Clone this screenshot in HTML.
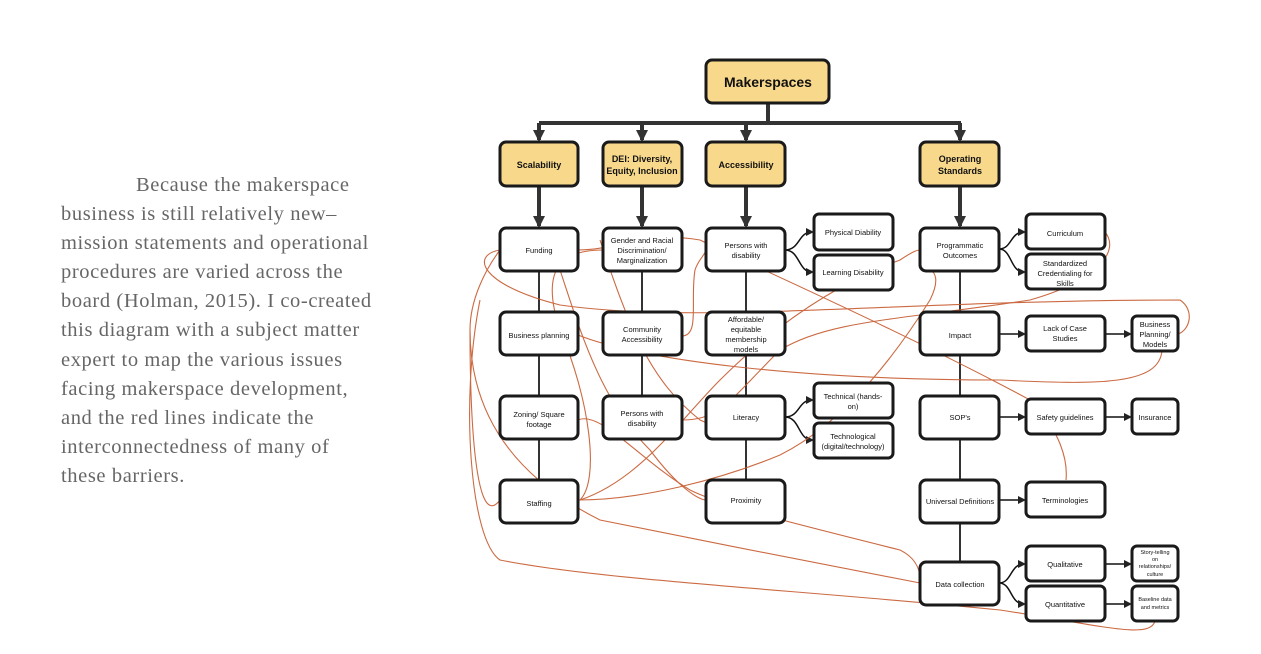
<!DOCTYPE html>
<html><head><meta charset="utf-8"><style>
html,body{margin:0;padding:0;background:#fff;}
body{width:1261px;height:654px;overflow:hidden;position:relative;}
.p{position:absolute;left:61px;top:171px;width:400px;font-family:"Liberation Serif",serif;font-size:20.5px;letter-spacing:0.6px;line-height:29.1px;color:#666;white-space:nowrap;}
svg{position:absolute;left:0;top:0;}
text{font-family:"Liberation Sans",sans-serif;fill:#111;text-anchor:middle;}
</style></head><body>
<div class="p"><span style="display:inline-block;width:75px"></span>Because the makerspace<br>business is still relatively new–<br>mission statements and operational<br>procedures are varied across the<br>board (Holman, 2015). I co-created<br>this diagram with a subject matter<br>expert to map the various issues<br>facing makerspace development,<br>and the red lines indicate the<br>interconnectedness of many of<br>these barriers.</div>
<svg width="1261" height="654" viewBox="0 0 1261 654">
<defs>
<marker id="a" markerWidth="8" markerHeight="8" refX="6" refY="4" orient="auto" markerUnits="userSpaceOnUse"><path d="M0,0L8,4L0,8z" fill="#222"/></marker>
<marker id="b" markerWidth="14" markerHeight="12" refX="10" refY="6" orient="auto" markerUnits="userSpaceOnUse"><path d="M0,0L12,6L0,12z" fill="#333"/></marker>
</defs>
<g stroke="#333" fill="none">
<path d="M768 103V123M539 123H961" stroke-width="4"/>
<g stroke-width="4" marker-end="url(#b)">
<path d="M539 123V140"/><path d="M642 123V140"/><path d="M746 123V140"/><path d="M960 123V140"/>
<path d="M539 186V226"/><path d="M642 186V226"/><path d="M746 186V226"/><path d="M960 186V226"/>
</g>
<path d="M539 271V480M642 271V396M746 271V480M960 271V562" stroke-width="2"/>
<g stroke="#111" stroke-width="1.5" marker-end="url(#a)">
<path d="M785 250C800 250 798 232 812 232"/><path d="M785 250C800 250 798 272 812 272"/>
<path d="M785 417C800 417 798 400 812 400"/><path d="M785 417C800 417 798 440 812 440"/>
<path d="M999 249C1012 249 1010 232 1024 232"/><path d="M999 249C1012 249 1010 272 1024 272"/>
<path d="M999 583C1012 583 1010 564 1024 564"/><path d="M999 583C1012 583 1010 604 1024 604"/>
<path d="M999 334H1024"/><path d="M1105 334H1130"/><path d="M999 417H1024"/><path d="M1105 417H1130"/><path d="M999 500H1024"/><path d="M1105 564H1130"/><path d="M1105 604H1130"/>
</g>
</g>
<g stroke="#c65a2e" stroke-width="1.1" fill="none" opacity="0.9">
<path d="M500 250C470 255 480 285 560 305C700 325 900 300 1180 300C1195 310 1190 330 1178 334"/>
<path d="M578 250C620 250 640 230 700 240C740 260 900 330 1030 400C1060 430 1068 460 1066 480"/>
<path d="M603 250C560 250 540 270 560 330C590 400 600 480 580 500C640 480 680 420 720 380C760 340 820 290 900 260C915 250 918 250 920 250"/>
<path d="M500 500C470 540 470 360 470 330C470 300 485 270 500 250"/>
<path d="M578 500C640 500 720 480 780 455C830 430 880 380 930 300C940 280 935 272 930 270"/>
<path d="M578 335C640 360 800 380 1000 380C1100 385 1160 385 1162 350"/>
<path d="M682 336C700 336 690 300 695 270C698 260 705 255 706 250"/>
<path d="M682 420C720 420 730 400 780 350C830 320 900 320 1030 300C1100 280 1120 250 1105 232"/>
<path d="M578 420C600 410 640 460 690 490C720 505 780 520 900 550C920 560 920 575 920 580"/>
<path d="M480 300C460 400 470 540 500 560C600 580 800 590 1000 610C1100 625 1150 640 1155 621"/>
<path d="M470 330C470 420 520 480 600 520C700 540 850 570 920 583"/>
<path d="M560 270C580 330 600 400 650 450C680 490 700 500 706 500"/>
<path d="M600 240C630 330 650 380 700 420C720 430 735 420 740 417"/>
</g>
<g stroke="#1a1a1a" stroke-width="3">
<rect x="706" y="60" width="123" height="43" rx="6" fill="#f8d98c"/>
<g fill="#f8d98c">
<rect x="500" y="142" width="78" height="44" rx="6"/><rect x="603" y="142" width="79" height="44" rx="6"/><rect x="706" y="142" width="79" height="44" rx="6"/><rect x="920" y="142" width="79" height="44" rx="6"/>
</g>
<g fill="#fff">
<rect x="500" y="228" width="78" height="43" rx="6"/><rect x="603" y="228" width="79" height="43" rx="6"/><rect x="706" y="228" width="79" height="43" rx="6"/><rect x="920" y="228" width="79" height="43" rx="6"/>
<rect x="814" y="214" width="79" height="36" rx="5"/><rect x="814" y="255" width="79" height="35" rx="5"/>
<rect x="1026" y="214" width="79" height="35" rx="5"/><rect x="1026" y="254" width="79" height="35" rx="5"/>
<rect x="500" y="312" width="78" height="43" rx="6"/><rect x="603" y="312" width="79" height="43" rx="6"/><rect x="706" y="312" width="79" height="43" rx="6"/><rect x="920" y="312" width="79" height="43" rx="6"/>
<rect x="1026" y="316" width="79" height="35" rx="5"/><rect x="1132" y="316" width="46" height="35" rx="5"/>
<rect x="500" y="396" width="78" height="43" rx="6"/><rect x="603" y="396" width="79" height="43" rx="6"/><rect x="706" y="396" width="79" height="43" rx="6"/><rect x="920" y="396" width="79" height="43" rx="6"/>
<rect x="814" y="383" width="79" height="35" rx="5"/><rect x="814" y="423" width="79" height="35" rx="5"/>
<rect x="1026" y="399" width="79" height="35" rx="5"/><rect x="1132" y="399" width="46" height="35" rx="5"/>
<rect x="500" y="480" width="78" height="43" rx="6"/><rect x="706" y="480" width="79" height="43" rx="6"/><rect x="920" y="480" width="79" height="43" rx="6"/>
<rect x="1026" y="482" width="79" height="35" rx="5"/>
<rect x="920" y="562" width="79" height="43" rx="6"/>
<rect x="1026" y="546" width="79" height="35" rx="5"/><rect x="1026" y="586" width="79" height="35" rx="5"/>
<rect x="1132" y="546" width="46" height="35" rx="5"/><rect x="1132" y="586" width="46" height="35" rx="5"/>
</g>
</g>
<text x="768" y="87" font-size="14" font-weight="bold">Makerspaces</text>
<g font-size="9" font-weight="bold">
<text x="539" y="168">Scalability</text>
<text x="642" y="162">DEI: Diversity,</text><text x="642" y="174">Equity, Inclusion</text>
<text x="746" y="168">Accessibility</text>
<text x="960" y="162">Operating</text><text x="960" y="174">Standards</text>
</g>
<g font-size="7.5">
<text x="539" y="253">Funding</text>
<text x="642" y="243">Gender and Racial</text><text x="642" y="253">Discrimination/</text><text x="642" y="263">Marginalization</text>
<text x="746" y="248">Persons with</text><text x="746" y="258">disability</text>
<text x="960" y="248">Programmatic</text><text x="960" y="258">Outcomes</text>
<text x="853" y="235">Physical Diability</text><text x="853" y="275">Learning Disability</text>
<text x="1065" y="236">Curriculum</text>
<text x="1065" y="266">Standardized</text><text x="1065" y="276">Credentialing for</text><text x="1065" y="286">Skills</text>
<text x="539" y="338">Business planning</text>
<text x="642" y="332">Community</text><text x="642" y="342">Accessibility</text>
<text x="746" y="322">Affordable/</text><text x="746" y="332">equitable</text><text x="746" y="342">membership</text><text x="746" y="352">models</text>
<text x="960" y="338">Impact</text>
<text x="1065" y="331">Lack of Case</text><text x="1065" y="341">Studies</text>
<text x="1155" y="327">Business</text><text x="1155" y="337">Planning/</text><text x="1155" y="347">Models</text>
<text x="539" y="417">Zoning/ Square</text><text x="539" y="427">footage</text>
<text x="642" y="416">Persons with</text><text x="642" y="426">disability</text>
<text x="746" y="420">Literacy</text>
<text x="960" y="420">SOP's</text>
<text x="853" y="399">Technical (hands-</text><text x="853" y="409">on)</text>
<text x="853" y="439">Technological</text><text x="853" y="449">(digital/technology)</text>
<text x="1065" y="420">Safety guidelines</text>
<text x="1155" y="420">Insurance</text>
<text x="539" y="506">Staffing</text>
<text x="746" y="503">Proximity</text>
<text x="960" y="504">Universal Definitions</text>
<text x="1065" y="503">Terminologies</text>
<text x="960" y="587">Data collection</text>
<text x="1065" y="567">Qualitative</text><text x="1065" y="607">Quantitative</text>
</g>
<g font-size="5.5">
<text x="1155" y="554">Story-telling</text><text x="1155" y="561">on</text><text x="1155" y="568">relationships/</text><text x="1155" y="576">culture</text>
<text x="1155" y="601">Baseline data</text><text x="1155" y="609">and metrics</text>
</g>
</svg>
</body></html>
